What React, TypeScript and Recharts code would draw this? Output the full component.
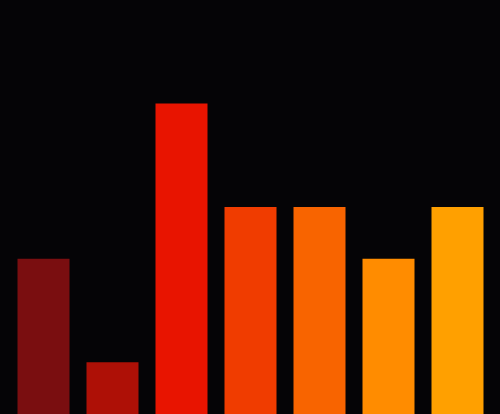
import React from 'react';
import { BarChart, Bar, XAxis, YAxis, Cell } from 'recharts';

const categories = ['A', 'B', 'C', 'D', 'E', 'F', 'G'];
const values = [3, 1, 6, 4, 4, 3, 4];
const colors = ['#7a0e10', '#ae1006', '#e81400', '#f03c00', '#f86400', '#ff8c00', '#ffa000'];

const data = categories.map((name, i) => ({ name, value: values[i] }));

export default function App() {
  return (
    <div style={{ position: 'absolute', top: 0, left: 0, width: 500, height: 414, background: '#050406' }}>
      <BarChart width={500} height={414} data={data} margin={{ top: 0, right: 8.5, left: 8.5, bottom: 0 }}>
        <XAxis dataKey="name" hide />
        <YAxis hide domain={[0, 8]} />
        <Bar dataKey="value" barSize={52} isAnimationActive={false}>
          {data.map((d, i) => (
            <Cell key={d.name} fill={colors[i]} />
          ))}
        </Bar>
      </BarChart>
    </div>
  );
}
